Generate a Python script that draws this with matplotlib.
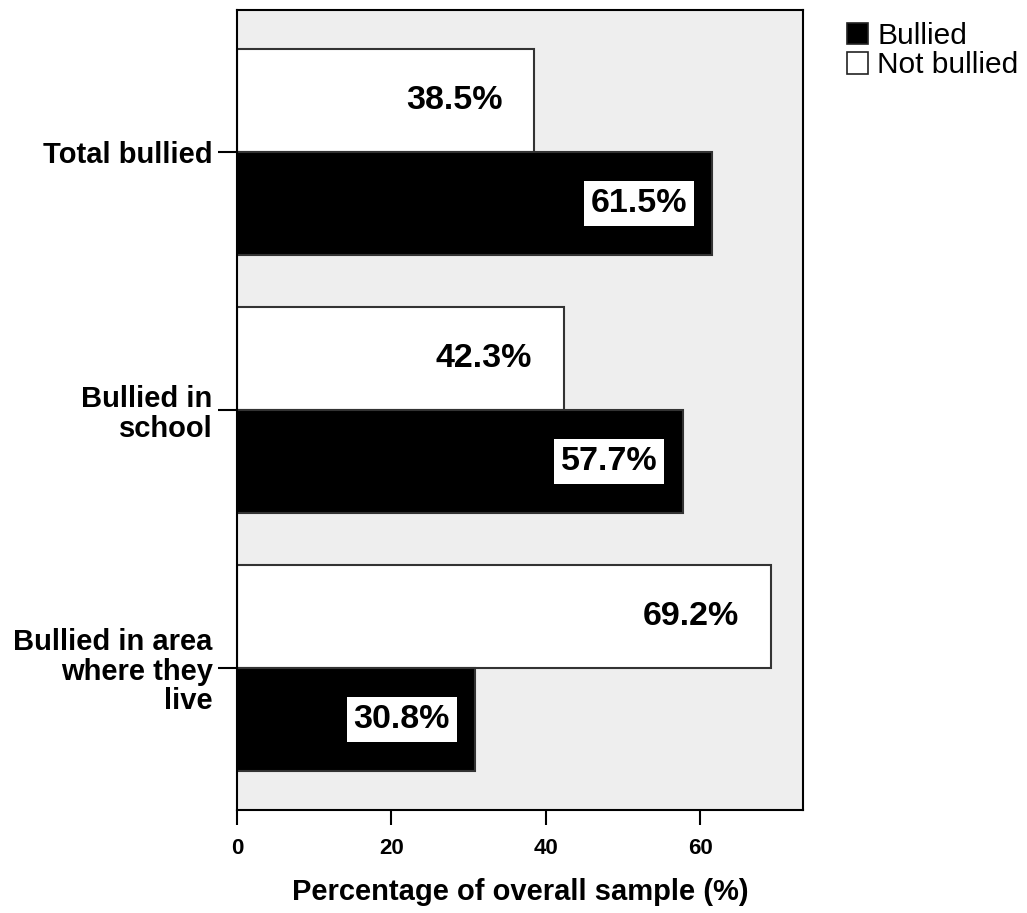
import matplotlib
matplotlib.use("Agg")
import matplotlib.pyplot as plt
from matplotlib.patches import Patch
import numpy as np

plt.rcParams['font.family'] = ['Liberation Sans', 'DejaVu Sans']

categories = ["Total bullied", "Bullied in\nschool", "Bullied in area\nwhere they\nlive"]
bullied = [61.5, 57.7, 30.8]
not_bullied = [38.5, 42.3, 69.2]
xticks = [0, 20, 40, 60]
xlabel = "Percentage of overall sample (%)"
legend_labels = ["Bullied", "Not bullied"]

fig = plt.figure(figsize=(10.27, 9.13), dpi=100)
ax = fig.add_axes([0.2308, 0.1128, 0.5511, 0.8762])
ax.set_facecolor('#eeeeee')

pos = np.arange(len(categories))
h = 0.4
edge = '#333333'
ax.barh(pos - h/2, not_bullied, height=h, color='white', edgecolor=edge, linewidth=1.5, zorder=2)
ax.barh(pos + h/2, bullied, height=h, color='black', edgecolor=edge, linewidth=1.5, zorder=2)

for y, v in zip(pos - h/2, not_bullied):
    ax.annotate(f"{v}%", xy=(v, y), xytext=(-23, 0), textcoords='offset points',
                ha='right', va='center', fontsize=24.5, fontweight='bold', zorder=3)
for y, v in zip(pos + h/2, bullied):
    ax.annotate(f"{v}%", xy=(v, y), xytext=(-18, 0), textcoords='offset points',
                ha='right', va='center', fontsize=24.5, fontweight='bold', zorder=3,
                bbox=dict(boxstyle='square,pad=0.2', fc='white', ec='none'))

ax.set_xlim(0, 73.3)
ax.set_ylim(2.55, -0.55)
ax.set_yticks(pos)
ax.set_yticklabels(categories, fontsize=21, fontweight='bold', linespacing=1.07)
ax.set_xticks(xticks)
ax.set_xticklabels([str(t) for t in xticks], fontsize=16, fontweight='bold')
ax.tick_params(axis='y', direction='out', length=14, width=1.5, pad=3.5)
ax.tick_params(axis='x', direction='out', length=11, width=1.5, pad=9)
ax.set_xlabel(xlabel, fontsize=21, fontweight='bold', labelpad=14)
for s in ax.spines.values():
    s.set_linewidth(1.5)
    s.set_color('black')

handles = [Patch(facecolor='black', edgecolor='#222222', linewidth=1.2),
           Patch(facecolor='white', edgecolor='#222222', linewidth=1.2)]
fig.legend(handles, legend_labels, loc='upper left', bbox_to_anchor=(0.8247, 0.976),
           frameon=False, fontsize=21.5, handlelength=0.72, handleheight=0.72,
           handletextpad=0.3, labelspacing=0.05, borderaxespad=0, borderpad=0)

fig.savefig("out.png", dpi=100)
